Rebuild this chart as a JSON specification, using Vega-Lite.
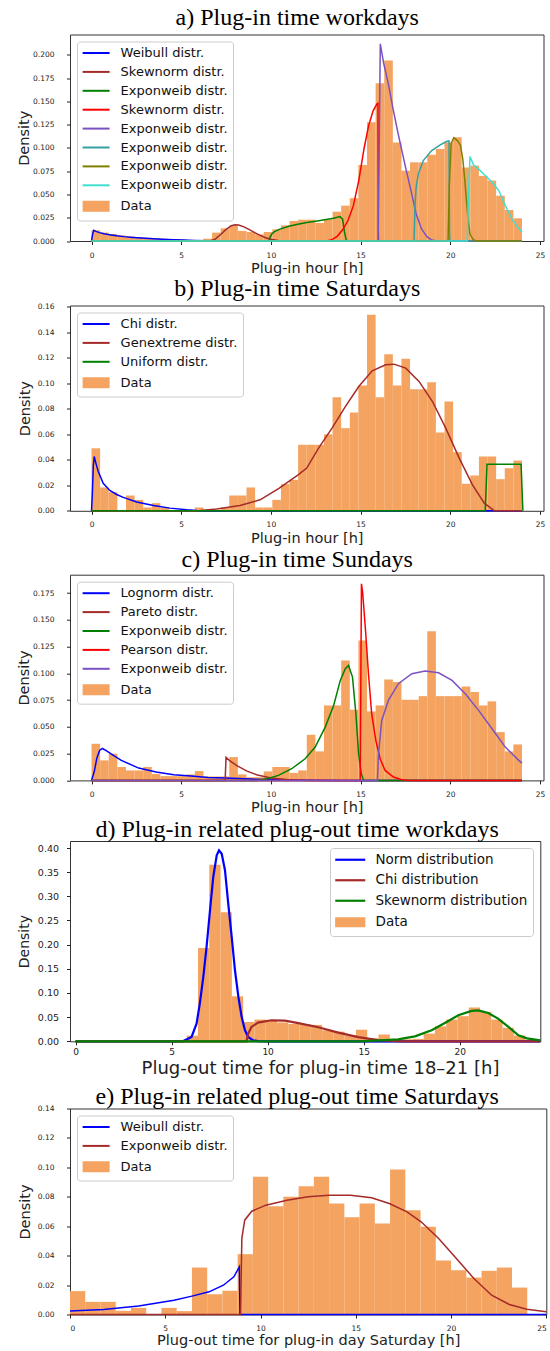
{
"$schema": "https://vega.github.io/schema/vega-lite/v6.json",
"background": "white",
"padding": {"left": 16, "top": 4.5, "right": 0, "bottom": 0},
"autosize": {"type": "pad"},
"spacing": 0,
"resolve": {"scale": {"color": "independent", "x": "independent", "y": "independent"}, "legend": {"color": "independent"}},
"config": {
  "font": "DejaVu Sans",
  "view": {"stroke": "#333333", "strokeWidth": 1},
  "axis": {"grid": false, "domain": false, "tickColor": "#222222", "tickSize": 3.5, "labelColor": "#222222", "titleColor": "#222222", "titleFontWeight": "normal", "labelFont": "DejaVu Sans", "titleFont": "DejaVu Sans"},
  "title": {"font": "Liberation Serif", "fontSize": 24, "fontWeight": "normal", "color": "#000000", "anchor": "middle"},
  "legend": {"orient": "top-left", "offset": 6.5, "padding": 5, "labelFontSize": 13, "labelOffset": 25.6, "symbolType": "M-1.18,0H4.22", "symbolSize": 100, "symbolStrokeWidth": 2, "strokeColor": "#cccccc", "fillColor": "#ffffff", "cornerRadius": 3, "labelColor": "#111111", "rowPadding": 4.9, "labelLimit": 400}
},
"vconcat": [
{
  "title": {"text": "a) Plug-in time workdays", "offset": 5, "dx": -9.5},
  "width": 473.5, "height": 206.5,
  "encoding": {
    "x": {"field": "x", "type": "quantitative", "scale": {"domain": [-1.2, 25.2], "nice": false, "zero": false}, "axis": {"title": "Plug-in hour [h]", "values": [0,5,10,15,20,25], "format": "d", "labelFontSize": 7.5, "labelPadding": 6.5, "titleFontSize": 14.5, "titlePadding": 3}},
    "y": {"field": "y", "type": "quantitative", "scale": {"domain": [0, 0.222], "nice": false}, "axis": {"title": "Density", "values": [0,0.025,0.05,0.075,0.1,0.125,0.15,0.175,0.2], "format": ".3f", "labelFontSize": 7.5, "labelPadding": 12.5, "titleFontSize": 14.5, "titlePadding": 1}}
  },
  "layer": [
    {"data": {"values": [
      {"x":0,"xe":0.48,"y":0.0115},{"x":0.48,"xe":0.96,"y":0.009},{"x":0.96,"xe":1.44,"y":0.0075},{"x":1.44,"xe":1.92,"y":0.006},{"x":1.92,"xe":2.4,"y":0.005},{"x":2.4,"xe":2.88,"y":0.0042},{"x":2.88,"xe":3.36,"y":0.0035},{"x":3.36,"xe":3.84,"y":0.003},{"x":3.84,"xe":4.32,"y":0.0025},{"x":4.32,"xe":4.8,"y":0.002},{"x":4.8,"xe":5.28,"y":0.0017},{"x":5.28,"xe":5.76,"y":0.0012},{"x":5.76,"xe":6.24,"y":0.001},{"x":6.24,"xe":6.72,"y":0.0025},{"x":6.72,"xe":7.2,"y":0.009},{"x":7.2,"xe":7.68,"y":0.0136},{"x":7.68,"xe":8.16,"y":0.0168},{"x":8.16,"xe":8.64,"y":0.0108},{"x":8.64,"xe":9.12,"y":0.0097},{"x":9.12,"xe":9.6,"y":0.0072},{"x":9.6,"xe":10.08,"y":0.0097},{"x":10.08,"xe":10.56,"y":0.0125},{"x":10.56,"xe":11.04,"y":0.0168},{"x":11.04,"xe":11.52,"y":0.0215},{"x":11.52,"xe":12,"y":0.0229},{"x":12,"xe":12.48,"y":0.0229},{"x":12.48,"xe":12.96,"y":0.0194},{"x":12.96,"xe":13.44,"y":0.023},{"x":13.44,"xe":13.92,"y":0.0315},{"x":13.92,"xe":14.4,"y":0.038},{"x":14.4,"xe":14.88,"y":0.046},{"x":14.88,"xe":15.36,"y":0.0817},{"x":15.36,"xe":15.84,"y":0.1276},{"x":15.84,"xe":16.32,"y":0.1695},{"x":16.32,"xe":16.8,"y":0.194},{"x":16.8,"xe":17.28,"y":0.106},{"x":17.28,"xe":17.76,"y":0.0756},{"x":17.76,"xe":18.24,"y":0.0846},{"x":18.24,"xe":18.72,"y":0.0846},{"x":18.72,"xe":19.2,"y":0.0928},{"x":19.2,"xe":19.68,"y":0.099},{"x":19.68,"xe":20.16,"y":0.106},{"x":20.16,"xe":20.64,"y":0.1115},{"x":20.64,"xe":21.12,"y":0.079},{"x":21.12,"xe":21.6,"y":0.081},{"x":21.6,"xe":22.08,"y":0.07},{"x":22.08,"xe":22.56,"y":0.065},{"x":22.56,"xe":23.04,"y":0.0487},{"x":23.04,"xe":23.52,"y":0.0333},{"x":23.52,"xe":24,"y":0.0244}
    ]}, "mark": {"type": "rect", "color": "#f4a460"}, "encoding": {"x2": {"field": "xe"}, "y2": {"datum": 0}}},
    {"data": {"values": [
      {"s":"1Weibull distr.","x":0,"y":0},{"s":"1Weibull distr.","x":0.06,"y":0.007},{"s":"1Weibull distr.","x":0.12,"y":0.0115},{"s":"1Weibull distr.","x":0.25,"y":0.0103},{"s":"1Weibull distr.","x":0.44,"y":0.009},{"s":"1Weibull distr.","x":0.7,"y":0.0078},{"s":"1Weibull distr.","x":1.0,"y":0.0068},{"s":"1Weibull distr.","x":1.4,"y":0.0056},{"s":"1Weibull distr.","x":1.8,"y":0.0047},{"s":"1Weibull distr.","x":2.3,"y":0.0038},{"s":"1Weibull distr.","x":2.8,"y":0.0031},{"s":"1Weibull distr.","x":3.2,"y":0.0026},{"s":"1Weibull distr.","x":3.7,"y":0.0021},{"s":"1Weibull distr.","x":4.2,"y":0.0017},{"s":"1Weibull distr.","x":4.6,"y":0.0013},{"s":"1Weibull distr.","x":5.1,"y":0.001},{"s":"1Weibull distr.","x":5.7,"y":0.0006},{"s":"1Weibull distr.","x":6.5,"y":0.0002},{"s":"1Weibull distr.","x":7.5,"y":0},{"s":"1Weibull distr.","x":24,"y":0},
      {"s":"2Skewnorm distr.","x":0,"y":0},{"s":"2Skewnorm distr.","x":6.6,"y":0},{"s":"2Skewnorm distr.","x":6.9,"y":0.002},{"s":"2Skewnorm distr.","x":7.2,"y":0.007},{"s":"2Skewnorm distr.","x":7.5,"y":0.0125},{"s":"2Skewnorm distr.","x":7.8,"y":0.0165},{"s":"2Skewnorm distr.","x":8.0,"y":0.0175},{"s":"2Skewnorm distr.","x":8.2,"y":0.0172},{"s":"2Skewnorm distr.","x":8.5,"y":0.0152},{"s":"2Skewnorm distr.","x":8.8,"y":0.0122},{"s":"2Skewnorm distr.","x":9.1,"y":0.009},{"s":"2Skewnorm distr.","x":9.4,"y":0.006},{"s":"2Skewnorm distr.","x":9.7,"y":0.0035},{"s":"2Skewnorm distr.","x":10.0,"y":0.0018},{"s":"2Skewnorm distr.","x":10.4,"y":0.0006},{"s":"2Skewnorm distr.","x":10.8,"y":0.0001},{"s":"2Skewnorm distr.","x":11.2,"y":0},{"s":"2Skewnorm distr.","x":24,"y":0},
      {"s":"3Exponweib distr.","x":0,"y":0},{"s":"3Exponweib distr.","x":9.9,"y":0},{"s":"3Exponweib distr.","x":9.95,"y":0.004},{"s":"3Exponweib distr.","x":10.05,"y":0.0075},{"s":"3Exponweib distr.","x":10.2,"y":0.01},{"s":"3Exponweib distr.","x":10.5,"y":0.0128},{"s":"3Exponweib distr.","x":11.0,"y":0.0158},{"s":"3Exponweib distr.","x":11.5,"y":0.0181},{"s":"3Exponweib distr.","x":12.0,"y":0.0198},{"s":"3Exponweib distr.","x":12.5,"y":0.0213},{"s":"3Exponweib distr.","x":13.0,"y":0.0228},{"s":"3Exponweib distr.","x":13.5,"y":0.0245},{"s":"3Exponweib distr.","x":13.85,"y":0.0262},{"s":"3Exponweib distr.","x":14.0,"y":0.0235},{"s":"3Exponweib distr.","x":14.1,"y":0.01},{"s":"3Exponweib distr.","x":14.2,"y":0.001},{"s":"3Exponweib distr.","x":14.3,"y":0},{"s":"3Exponweib distr.","x":24,"y":0},
      {"s":"4Skewnorm distr.","x":0,"y":0},{"s":"4Skewnorm distr.","x":13.1,"y":0},{"s":"4Skewnorm distr.","x":13.4,"y":0.0015},{"s":"4Skewnorm distr.","x":13.7,"y":0.005},{"s":"4Skewnorm distr.","x":14.0,"y":0.012},{"s":"4Skewnorm distr.","x":14.3,"y":0.022},{"s":"4Skewnorm distr.","x":14.6,"y":0.038},{"s":"4Skewnorm distr.","x":14.9,"y":0.065},{"s":"4Skewnorm distr.","x":15.2,"y":0.1},{"s":"4Skewnorm distr.","x":15.45,"y":0.124},{"s":"4Skewnorm distr.","x":15.7,"y":0.14},{"s":"4Skewnorm distr.","x":15.9,"y":0.147},{"s":"4Skewnorm distr.","x":15.97,"y":0.148},{"s":"4Skewnorm distr.","x":15.99,"y":0.01},{"s":"4Skewnorm distr.","x":16.0,"y":0},{"s":"4Skewnorm distr.","x":24,"y":0},
      {"s":"5Exponweib distr.","x":0,"y":0},{"s":"5Exponweib distr.","x":15.98,"y":0},{"s":"5Exponweib distr.","x":16.04,"y":0.1},{"s":"5Exponweib distr.","x":16.1,"y":0.212},{"s":"5Exponweib distr.","x":16.3,"y":0.19},{"s":"5Exponweib distr.","x":16.55,"y":0.169},{"s":"5Exponweib distr.","x":16.8,"y":0.143},{"s":"5Exponweib distr.","x":17.1,"y":0.115},{"s":"5Exponweib distr.","x":17.5,"y":0.08},{"s":"5Exponweib distr.","x":17.85,"y":0.051},{"s":"5Exponweib distr.","x":18.1,"y":0.029},{"s":"5Exponweib distr.","x":18.4,"y":0.013},{"s":"5Exponweib distr.","x":18.7,"y":0.0046},{"s":"5Exponweib distr.","x":18.95,"y":0.0012},{"s":"5Exponweib distr.","x":19.3,"y":0},{"s":"5Exponweib distr.","x":24,"y":0},
      {"s":"6Exponweib distr.","x":0,"y":0},{"s":"6Exponweib distr.","x":17.98,"y":0},{"s":"6Exponweib distr.","x":18.04,"y":0.04},{"s":"6Exponweib distr.","x":18.1,"y":0.058},{"s":"6Exponweib distr.","x":18.22,"y":0.072},{"s":"6Exponweib distr.","x":18.5,"y":0.0865},{"s":"6Exponweib distr.","x":18.95,"y":0.097},{"s":"6Exponweib distr.","x":19.42,"y":0.103},{"s":"6Exponweib distr.","x":19.79,"y":0.107},{"s":"6Exponweib distr.","x":19.93,"y":0.1075},{"s":"6Exponweib distr.","x":19.96,"y":0.01},{"s":"6Exponweib distr.","x":19.98,"y":0},{"s":"6Exponweib distr.","x":24,"y":0},
      {"s":"7Exponweib distr.","x":0,"y":0},{"s":"7Exponweib distr.","x":19.88,"y":0},{"s":"7Exponweib distr.","x":19.95,"y":0.06},{"s":"7Exponweib distr.","x":20.05,"y":0.105},{"s":"7Exponweib distr.","x":20.2,"y":0.111},{"s":"7Exponweib distr.","x":20.4,"y":0.108},{"s":"7Exponweib distr.","x":20.57,"y":0.103},{"s":"7Exponweib distr.","x":20.7,"y":0.088},{"s":"7Exponweib distr.","x":20.8,"y":0.068},{"s":"7Exponweib distr.","x":20.9,"y":0.045},{"s":"7Exponweib distr.","x":21.0,"y":0.022},{"s":"7Exponweib distr.","x":21.1,"y":0.0075},{"s":"7Exponweib distr.","x":21.3,"y":0.001},{"s":"7Exponweib distr.","x":21.5,"y":0},{"s":"7Exponweib distr.","x":24,"y":0},
      {"s":"8Exponweib distr.","x":0,"y":0},{"s":"8Exponweib distr.","x":20.95,"y":0},{"s":"8Exponweib distr.","x":21.02,"y":0.05},{"s":"8Exponweib distr.","x":21.1,"y":0.0907},{"s":"8Exponweib distr.","x":21.3,"y":0.082},{"s":"8Exponweib distr.","x":21.6,"y":0.077},{"s":"8Exponweib distr.","x":21.95,"y":0.0705},{"s":"8Exponweib distr.","x":22.33,"y":0.0635},{"s":"8Exponweib distr.","x":22.7,"y":0.0545},{"s":"8Exponweib distr.","x":23.07,"y":0.0381},{"s":"8Exponweib distr.","x":23.45,"y":0.0236},{"s":"8Exponweib distr.","x":23.75,"y":0.015},{"s":"8Exponweib distr.","x":24.0,"y":0.0097}
    ]}, "mark": {"type": "line", "strokeWidth": 1.5}, "encoding": {"color": {"field": "s", "type": "nominal",
      "scale": {"domain": ["1Weibull distr.","2Skewnorm distr.","3Exponweib distr.","4Skewnorm distr.","5Exponweib distr.","6Exponweib distr.","7Exponweib distr.","8Exponweib distr.","9Data"], "range": ["#0000ff","#a52a2a","#008000","#ff0000","#7b52c2","#36a0a0","#808000","#40e0d0","#f4a460"]},
      "legend": {"title": null, "labelExpr": "substring(datum.value, 1)", "encode": {"symbols": {"update": {"shape": {"signal": "datum.value === '9Data' ? 'M-0.98,-0.9H4.02V0.9H-0.98Z' : 'M-1.18,0H4.22'"}, "fill": {"signal": "datum.value === '9Data' ? '#f4a460' : 'transparent'"}}}}}}}}
  ]
},
{
"spacing": 2.2,
"resolve": {"scale": {"color": "independent", "x": "independent", "y": "independent"}, "legend": {"color": "independent"}},
"vconcat": [
{
  "title": {"text": "b) Plug-in time Saturdays", "offset": 2, "dx": -9.5},
  "width": 473.5, "height": 205.3,
  "encoding": {
    "x": {"field": "x", "type": "quantitative", "scale": {"domain": [-1.2, 25.2], "nice": false, "zero": false}, "axis": {"title": "Plug-in hour [h]", "values": [0,5,10,15,20,25], "format": "d", "labelFontSize": 7.5, "labelPadding": 6.5, "titleFontSize": 14.5, "titlePadding": 3}},
    "y": {"field": "y", "type": "quantitative", "scale": {"domain": [0, 0.161], "nice": false}, "axis": {"title": "Density", "values": [0,0.02,0.04,0.06,0.08,0.1,0.12,0.14,0.16], "format": ".2f", "labelFontSize": 7.5, "labelPadding": 12.5, "titleFontSize": 14.5, "titlePadding": 5}}
  },
  "layer": [
    {"data": {"values": [
      {"x":0,"xe":0.48,"y":0.049},{"x":0.48,"xe":0.96,"y":0.0183},{"x":0.96,"xe":1.44,"y":0.0146},{"x":1.92,"xe":2.4,"y":0.012},{"x":2.4,"xe":2.88,"y":0.0086},{"x":2.88,"xe":3.36,"y":0.0026},{"x":3.36,"xe":3.84,"y":0.006},{"x":3.84,"xe":4.32,"y":0.0026},{"x":5.76,"xe":6.24,"y":0.0026},{"x":7.2,"xe":7.68,"y":0.0026},{"x":7.68,"xe":8.16,"y":0.012},{"x":8.16,"xe":8.64,"y":0.012},{"x":8.64,"xe":9.12,"y":0.0183},{"x":9.12,"xe":9.6,"y":0.0026},{"x":9.6,"xe":10.08,"y":0.0026},{"x":10.08,"xe":10.56,"y":0.0086},{"x":10.56,"xe":11.04,"y":0.0209},{"x":11.04,"xe":11.52,"y":0.0243},{"x":11.52,"xe":12,"y":0.0518},{"x":12,"xe":12.48,"y":0.0518},{"x":12.48,"xe":12.96,"y":0.0518},{"x":12.96,"xe":13.44,"y":0.06},{"x":13.44,"xe":13.92,"y":0.0891},{"x":13.92,"xe":14.4,"y":0.0648},{"x":14.4,"xe":14.88,"y":0.0771},{"x":14.88,"xe":15.36,"y":0.0983},{"x":15.36,"xe":15.84,"y":0.1537},{"x":15.84,"xe":16.32,"y":0.0891},{"x":16.32,"xe":16.8,"y":0.1228},{"x":16.8,"xe":17.28,"y":0.0983},{"x":17.28,"xe":17.76,"y":0.1192},{"x":17.76,"xe":18.24,"y":0.0954},{"x":18.24,"xe":18.72,"y":0.0954},{"x":18.72,"xe":19.2,"y":0.1009},{"x":19.2,"xe":19.68,"y":0.0614},{"x":19.68,"xe":20.16,"y":0.0857},{"x":20.16,"xe":20.64,"y":0.046},{"x":20.64,"xe":21.12,"y":0.0212},{"x":21.12,"xe":21.6,"y":0.0277},{"x":21.6,"xe":22.08,"y":0.0426},{"x":22.08,"xe":22.56,"y":0.0426},{"x":22.56,"xe":23.04,"y":0.0248},{"x":23.04,"xe":23.52,"y":0.0334},{"x":23.52,"xe":24,"y":0.0394}
    ]}, "mark": {"type": "rect", "color": "#f4a460"}, "encoding": {"x2": {"field": "xe"}, "y2": {"datum": 0}}},
    {"data": {"values": [
      {"s":"1Chi distr.","x":0,"y":0},{"s":"1Chi distr.","x":0.05,"y":0.015},{"s":"1Chi distr.","x":0.1,"y":0.035},{"s":"1Chi distr.","x":0.15,"y":0.0426},{"s":"1Chi distr.","x":0.25,"y":0.037},{"s":"1Chi distr.","x":0.37,"y":0.031},{"s":"1Chi distr.","x":0.65,"y":0.0216},{"s":"1Chi distr.","x":1.02,"y":0.016},{"s":"1Chi distr.","x":1.4,"y":0.0128},{"s":"1Chi distr.","x":1.77,"y":0.0105},{"s":"1Chi distr.","x":2.52,"y":0.0069},{"s":"1Chi distr.","x":3.45,"y":0.0042},{"s":"1Chi distr.","x":4.38,"y":0.0021},{"s":"1Chi distr.","x":5.31,"y":0.0008},{"s":"1Chi distr.","x":5.87,"y":0.0003},{"s":"1Chi distr.","x":6.5,"y":0.0001},{"s":"1Chi distr.","x":7,"y":0},{"s":"1Chi distr.","x":24,"y":0},
      {"s":"2Genextreme distr.","x":0,"y":0},{"s":"2Genextreme distr.","x":5.8,"y":0},{"s":"2Genextreme distr.","x":6.05,"y":0.0002},{"s":"2Genextreme distr.","x":6.98,"y":0.0015},{"s":"2Genextreme distr.","x":8.28,"y":0.0042},{"s":"2Genextreme distr.","x":9.4,"y":0.0086},{"s":"2Genextreme distr.","x":10.45,"y":0.0175},{"s":"2Genextreme distr.","x":11.5,"y":0.028},{"s":"2Genextreme distr.","x":12.0,"y":0.0335},{"s":"2Genextreme distr.","x":12.66,"y":0.0491},{"s":"2Genextreme distr.","x":13.41,"y":0.0648},{"s":"2Genextreme distr.","x":14.15,"y":0.0817},{"s":"2Genextreme distr.","x":14.9,"y":0.0975},{"s":"2Genextreme distr.","x":15.65,"y":0.1098},{"s":"2Genextreme distr.","x":16.4,"y":0.1145},{"s":"2Genextreme distr.","x":16.86,"y":0.115},{"s":"2Genextreme distr.","x":17.52,"y":0.1119},{"s":"2Genextreme distr.","x":18.26,"y":0.1015},{"s":"2Genextreme distr.","x":19.01,"y":0.0857},{"s":"2Genextreme distr.","x":19.75,"y":0.0648},{"s":"2Genextreme distr.","x":20.5,"y":0.0413},{"s":"2Genextreme distr.","x":21.24,"y":0.0204},{"s":"2Genextreme distr.","x":21.9,"y":0.006},{"s":"2Genextreme distr.","x":22.46,"y":0},{"s":"2Genextreme distr.","x":24,"y":0},
      {"s":"3Uniform distr.","x":0,"y":0},{"s":"3Uniform distr.","x":21.95,"y":0},{"s":"3Uniform distr.","x":22.05,"y":0.0366},{"s":"3Uniform distr.","x":23.95,"y":0.0366},{"s":"3Uniform distr.","x":24.05,"y":0}
    ]}, "mark": {"type": "line", "strokeWidth": 1.5}, "encoding": {"color": {"field": "s", "type": "nominal",
      "scale": {"domain": ["1Chi distr.","2Genextreme distr.","3Uniform distr.","4Data"], "range": ["#0000ff","#a52a2a","#008000","#f4a460"]},
      "legend": {"title": null, "labelExpr": "substring(datum.value, 1)", "encode": {"symbols": {"update": {"shape": {"signal": "datum.value === '4Data' ? 'M-0.98,-0.9H4.02V0.9H-0.98Z' : 'M-1.18,0H4.22'"}, "fill": {"signal": "datum.value === '4Data' ? '#f4a460' : 'transparent'"}}}}}}}}
  ]
},
{
"spacing": 1.3,
"resolve": {"scale": {"color": "independent", "x": "independent", "y": "independent"}, "legend": {"color": "independent"}},
"vconcat": [
{
  "title": {"text": "c) Plug-in time Sundays", "offset": 2.5, "dx": -9.5},
  "width": 473.5, "height": 205.7,
  "encoding": {
    "x": {"field": "x", "type": "quantitative", "scale": {"domain": [-1.2, 25.2], "nice": false, "zero": false}, "axis": {"title": "Plug-in hour [h]", "values": [0,5,10,15,20,25], "format": "d", "labelFontSize": 7.5, "labelPadding": 6.5, "titleFontSize": 14.5, "titlePadding": 3}},
    "y": {"field": "y", "type": "quantitative", "scale": {"domain": [0, 0.1921], "nice": false}, "axis": {"title": "Density", "values": [0,0.025,0.05,0.075,0.1,0.125,0.15,0.175], "format": ".3f", "labelFontSize": 7.5, "labelPadding": 12.5, "titleFontSize": 14.5, "titlePadding": 1}}
  },
  "layer": [
    {"data": {"values": [
      {"x":0,"xe":0.48,"y":0.0342},{"x":0.48,"xe":0.96,"y":0.0187},{"x":0.96,"xe":1.44,"y":0.0249},{"x":1.44,"xe":1.92,"y":0.0125},{"x":1.92,"xe":2.4,"y":0.0093},{"x":2.4,"xe":2.88,"y":0.0093},{"x":2.88,"xe":3.36,"y":0.0125},{"x":3.36,"xe":3.84,"y":0.006},{"x":3.84,"xe":4.32,"y":0.004},{"x":4.32,"xe":4.8,"y":0.004},{"x":4.8,"xe":5.28,"y":0.004},{"x":5.28,"xe":5.76,"y":0.0056},{"x":5.76,"xe":6.24,"y":0.0087},{"x":6.24,"xe":6.72,"y":0.0037},{"x":6.72,"xe":7.2,"y":0.0037},{"x":7.2,"xe":7.68,"y":0.0037},{"x":7.68,"xe":8.16,"y":0.0218},{"x":8.16,"xe":8.64,"y":0.0056},{"x":8.64,"xe":9.12,"y":0.003},{"x":9.12,"xe":9.6,"y":0.003},{"x":9.6,"xe":10.08,"y":0.0084},{"x":10.08,"xe":10.56,"y":0.0125},{"x":10.56,"xe":11.04,"y":0.0125},{"x":11.04,"xe":11.52,"y":0.007},{"x":11.52,"xe":12,"y":0.0093},{"x":12,"xe":12.48,"y":0.0426},{"x":12.48,"xe":12.96,"y":0.0271},{"x":12.96,"xe":13.44,"y":0.07},{"x":13.44,"xe":13.92,"y":0.07},{"x":13.92,"xe":14.4,"y":0.112},{"x":14.4,"xe":14.88,"y":0.066},{"x":14.88,"xe":15.36,"y":0.1307},{"x":15.36,"xe":15.84,"y":0.0644},{"x":15.84,"xe":16.32,"y":0.07},{"x":16.32,"xe":16.8,"y":0.0943},{"x":16.8,"xe":17.28,"y":0.0918},{"x":17.28,"xe":17.76,"y":0.0753},{"x":17.76,"xe":18.24,"y":0.0753},{"x":18.24,"xe":18.72,"y":0.0787},{"x":18.72,"xe":19.2,"y":0.1394},{"x":19.2,"xe":19.68,"y":0.0787},{"x":19.68,"xe":20.16,"y":0.0787},{"x":20.16,"xe":20.64,"y":0.0787},{"x":20.64,"xe":21.12,"y":0.0878},{"x":21.12,"xe":21.6,"y":0.0825},{"x":21.6,"xe":22.08,"y":0.07},{"x":22.08,"xe":22.56,"y":0.0738},{"x":22.56,"xe":23.04,"y":0.0451},{"x":23.04,"xe":23.52,"y":0.0271},{"x":23.52,"xe":24,"y":0.0336}
    ]}, "mark": {"type": "rect", "color": "#f4a460"}, "encoding": {"x2": {"field": "xe"}, "y2": {"datum": 0}}},
    {"data": {"values": [
      {"s":"1Lognorm distr.","x":0,"y":0},{"s":"1Lognorm distr.","x":0.15,"y":0.008},{"s":"1Lognorm distr.","x":0.3,"y":0.021},{"s":"1Lognorm distr.","x":0.45,"y":0.028},{"s":"1Lognorm distr.","x":0.6,"y":0.0298},{"s":"1Lognorm distr.","x":0.8,"y":0.028},{"s":"1Lognorm distr.","x":1.07,"y":0.0249},{"s":"1Lognorm distr.","x":1.66,"y":0.0187},{"s":"1Lognorm distr.","x":2.63,"y":0.0115},{"s":"1Lognorm distr.","x":3.6,"y":0.0078},{"s":"1Lognorm distr.","x":4.58,"y":0.0053},{"s":"1Lognorm distr.","x":5.55,"y":0.004},{"s":"1Lognorm distr.","x":6.5,"y":0.0028},{"s":"1Lognorm distr.","x":7.5,"y":0.0022},{"s":"1Lognorm distr.","x":8.86,"y":0.0012},{"s":"1Lognorm distr.","x":10.4,"y":0.0006},{"s":"1Lognorm distr.","x":12,"y":0.0002},{"s":"1Lognorm distr.","x":14,"y":0},{"s":"1Lognorm distr.","x":24,"y":0},
      {"s":"2Pareto distr.","x":0,"y":0},{"s":"2Pareto distr.","x":7.45,"y":0},{"s":"2Pareto distr.","x":7.5,"y":0.0215},{"s":"2Pareto distr.","x":7.7,"y":0.0185},{"s":"2Pareto distr.","x":8.08,"y":0.014},{"s":"2Pareto distr.","x":8.67,"y":0.0087},{"s":"2Pareto distr.","x":9.25,"y":0.005},{"s":"2Pareto distr.","x":10.0,"y":0.0022},{"s":"2Pareto distr.","x":11.0,"y":0.0006},{"s":"2Pareto distr.","x":12,"y":0},{"s":"2Pareto distr.","x":24,"y":0},
      {"s":"3Exponweib distr.","x":0,"y":0},{"s":"3Exponweib distr.","x":9.2,"y":0},{"s":"3Exponweib distr.","x":9.8,"y":0.0015},{"s":"3Exponweib distr.","x":10.42,"y":0.0047},{"s":"3Exponweib distr.","x":11.16,"y":0.0109},{"s":"3Exponweib distr.","x":11.91,"y":0.0202},{"s":"3Exponweib distr.","x":12.47,"y":0.0311},{"s":"3Exponweib distr.","x":13.03,"y":0.0498},{"s":"3Exponweib distr.","x":13.5,"y":0.07},{"s":"3Exponweib distr.","x":13.87,"y":0.0934},{"s":"3Exponweib distr.","x":14.15,"y":0.1043},{"s":"3Exponweib distr.","x":14.33,"y":0.1074},{"s":"3Exponweib distr.","x":14.55,"y":0.0965},{"s":"3Exponweib distr.","x":14.74,"y":0.0623},{"s":"3Exponweib distr.","x":14.89,"y":0.0249},{"s":"3Exponweib distr.","x":15.04,"y":0.0062},{"s":"3Exponweib distr.","x":15.17,"y":0},{"s":"3Exponweib distr.","x":24,"y":0},
      {"s":"4Pearson distr.","x":0,"y":0},{"s":"4Pearson distr.","x":14.98,"y":0},{"s":"4Pearson distr.","x":15.05,"y":0.1836},{"s":"4Pearson distr.","x":15.12,"y":0.175},{"s":"4Pearson distr.","x":15.29,"y":0.137},{"s":"4Pearson distr.","x":15.44,"y":0.0996},{"s":"4Pearson distr.","x":15.62,"y":0.0623},{"s":"4Pearson distr.","x":15.85,"y":0.0374},{"s":"4Pearson distr.","x":16.09,"y":0.0202},{"s":"4Pearson distr.","x":16.37,"y":0.0093},{"s":"4Pearson distr.","x":16.83,"y":0.0031},{"s":"4Pearson distr.","x":17.3,"y":0.0006},{"s":"4Pearson distr.","x":17.8,"y":0},{"s":"4Pearson distr.","x":24,"y":0},
      {"s":"5Exponweib distr.","x":0,"y":0},{"s":"5Exponweib distr.","x":15.94,"y":0},{"s":"5Exponweib distr.","x":16.0,"y":0.0249},{"s":"5Exponweib distr.","x":16.18,"y":0.056},{"s":"5Exponweib distr.","x":16.55,"y":0.0747},{"s":"5Exponweib distr.","x":17.11,"y":0.0903},{"s":"5Exponweib distr.","x":17.86,"y":0.0996},{"s":"5Exponweib distr.","x":18.6,"y":0.1021},{"s":"5Exponweib distr.","x":19.35,"y":0.1005},{"s":"5Exponweib distr.","x":20.1,"y":0.0934},{"s":"5Exponweib distr.","x":20.84,"y":0.0809},{"s":"5Exponweib distr.","x":21.58,"y":0.0654},{"s":"5Exponweib distr.","x":22.33,"y":0.0482},{"s":"5Exponweib distr.","x":23.07,"y":0.0311},{"s":"5Exponweib distr.","x":23.82,"y":0.0187},{"s":"5Exponweib distr.","x":24.0,"y":0.0162}
    ]}, "mark": {"type": "line", "strokeWidth": 1.5}, "encoding": {"color": {"field": "s", "type": "nominal",
      "scale": {"domain": ["1Lognorm distr.","2Pareto distr.","3Exponweib distr.","4Pearson distr.","5Exponweib distr.","6Data"], "range": ["#0000ff","#a52a2a","#008000","#ff0000","#7b52c2","#f4a460"]},
      "legend": {"title": null, "labelExpr": "substring(datum.value, 1)", "encode": {"symbols": {"update": {"shape": {"signal": "datum.value === '6Data' ? 'M-0.98,-0.9H4.02V0.9H-0.98Z' : 'M-1.18,0H4.22'"}, "fill": {"signal": "datum.value === '6Data' ? '#f4a460' : 'transparent'"}}}}}}}}
  ]
},
{
"spacing": 4.5,
"resolve": {"scale": {"color": "independent", "x": "independent", "y": "independent"}, "legend": {"color": "independent"}},
"vconcat": [
{
  "title": {"text": "d) Plug-in related plug-out time workdays", "offset": -1, "dx": -8},
  "width": 470.3, "height": 200.3,
  "encoding": {
    "x": {"field": "x", "type": "quantitative", "scale": {"domain": [-0.29, 24.2], "nice": false, "zero": false}, "axis": {"title": "Plug-out time for plug-in time 18–21 [h]", "values": [0,5,10,15,20], "format": "d", "labelFontSize": 9, "labelPadding": 3, "titleFontSize": 18, "titlePadding": 3, "titleX": 250, "titleAlign": "center"}},
    "y": {"field": "y", "type": "quantitative", "scale": {"domain": [0, 0.4145], "nice": false}, "axis": {"title": "Density", "values": [0,0.05,0.1,0.15,0.2,0.25,0.3,0.35,0.4], "format": ".2f", "labelFontSize": 9.5, "labelPadding": 8, "titleFontSize": 14, "titlePadding": 6}}
  },
  "layer": [
    {"data": {"values": [
      {"x":0.5,"xe":1.0875,"y":0.002},{"x":3.4375,"xe":4.025,"y":0.002},{"x":4.6125,"xe":5.2,"y":0.002},{"x":5.2,"xe":5.7875,"y":0.002},{"x":5.7875,"xe":6.375,"y":0.0117},{"x":6.375,"xe":6.9625,"y":0.193},{"x":6.9625,"xe":7.55,"y":0.3656},{"x":7.55,"xe":8.1375,"y":0.267},{"x":8.1375,"xe":8.725,"y":0.0931},{"x":8.725,"xe":9.3125,"y":0.04},{"x":9.3125,"xe":9.9,"y":0.045},{"x":9.9,"xe":10.4875,"y":0.044},{"x":10.4875,"xe":11.075,"y":0.039},{"x":11.075,"xe":11.6625,"y":0.036},{"x":11.6625,"xe":12.25,"y":0.035},{"x":12.25,"xe":12.8375,"y":0.034},{"x":12.8375,"xe":13.425,"y":0.023},{"x":13.425,"xe":14.0125,"y":0.02},{"x":14.0125,"xe":14.6,"y":0.012},{"x":14.6,"xe":15.1875,"y":0.024},{"x":15.1875,"xe":15.775,"y":0.006},{"x":15.775,"xe":16.3625,"y":0.014},{"x":16.3625,"xe":16.95,"y":0.005},{"x":16.95,"xe":17.5375,"y":0.004},{"x":17.5375,"xe":18.125,"y":0.005},{"x":18.125,"xe":18.7125,"y":0.016},{"x":18.7125,"xe":19.3,"y":0.031},{"x":19.3,"xe":19.8875,"y":0.045},{"x":19.8875,"xe":20.475,"y":0.052},{"x":20.475,"xe":21.0625,"y":0.07},{"x":21.0625,"xe":21.65,"y":0.061},{"x":21.65,"xe":22.2375,"y":0.045},{"x":22.2375,"xe":22.825,"y":0.028},{"x":22.825,"xe":23.4125,"y":0.012},{"x":23.4125,"xe":24,"y":0.003}
    ]}, "mark": {"type": "rect", "color": "#f4a460"}, "encoding": {"x2": {"field": "xe"}, "y2": {"datum": 0}}},
    {"data": {"values": [
      {"s":"1Norm distribution","x":0,"y":0},{"s":"1Norm distribution","x":5.0,"y":0},{"s":"1Norm distribution","x":5.61,"y":0.0005},{"s":"1Norm distribution","x":6.04,"y":0.009},{"s":"1Norm distribution","x":6.3,"y":0.0366},{"s":"1Norm distribution","x":6.47,"y":0.078},{"s":"1Norm distribution","x":6.65,"y":0.133},{"s":"1Norm distribution","x":6.82,"y":0.195},{"s":"1Norm distribution","x":7.0,"y":0.271},{"s":"1Norm distribution","x":7.17,"y":0.34},{"s":"1Norm distribution","x":7.35,"y":0.385},{"s":"1Norm distribution","x":7.47,"y":0.395},{"s":"1Norm distribution","x":7.61,"y":0.388},{"s":"1Norm distribution","x":7.78,"y":0.354},{"s":"1Norm distribution","x":7.95,"y":0.285},{"s":"1Norm distribution","x":8.13,"y":0.216},{"s":"1Norm distribution","x":8.3,"y":0.147},{"s":"1Norm distribution","x":8.48,"y":0.0917},{"s":"1Norm distribution","x":8.65,"y":0.05},{"s":"1Norm distribution","x":8.82,"y":0.0228},{"s":"1Norm distribution","x":8.99,"y":0.009},{"s":"1Norm distribution","x":9.25,"y":0.002},{"s":"1Norm distribution","x":9.5,"y":0.0003},{"s":"1Norm distribution","x":10,"y":0},{"s":"1Norm distribution","x":24.2,"y":0},
      {"s":"2Chi distribution","x":0,"y":0},{"s":"2Chi distribution","x":8.9,"y":0},{"s":"2Chi distribution","x":8.99,"y":0.016},{"s":"2Chi distribution","x":9.16,"y":0.0297},{"s":"2Chi distribution","x":9.5,"y":0.0386},{"s":"2Chi distribution","x":10.2,"y":0.0435},{"s":"2Chi distribution","x":10.9,"y":0.0428},{"s":"2Chi distribution","x":11.6,"y":0.0376},{"s":"2Chi distribution","x":12.64,"y":0.029},{"s":"2Chi distribution","x":13.68,"y":0.018},{"s":"2Chi distribution","x":14.72,"y":0.0085},{"s":"2Chi distribution","x":15.76,"y":0.0025},{"s":"2Chi distribution","x":16.8,"y":0.0003},{"s":"2Chi distribution","x":17.5,"y":0},{"s":"2Chi distribution","x":24.2,"y":0},
      {"s":"3Skewnorm distribution","x":0,"y":0},{"s":"3Skewnorm distribution","x":14.72,"y":0},{"s":"3Skewnorm distribution","x":15.93,"y":0.002},{"s":"3Skewnorm distribution","x":16.8,"y":0.004},{"s":"3Skewnorm distribution","x":17.67,"y":0.0103},{"s":"3Skewnorm distribution","x":18.54,"y":0.0228},{"s":"3Skewnorm distribution","x":19.23,"y":0.0379},{"s":"3Skewnorm distribution","x":19.93,"y":0.0538},{"s":"3Skewnorm distribution","x":20.62,"y":0.0628},{"s":"3Skewnorm distribution","x":20.97,"y":0.0641},{"s":"3Skewnorm distribution","x":21.49,"y":0.0586},{"s":"3Skewnorm distribution","x":22.0,"y":0.0469},{"s":"3Skewnorm distribution","x":22.54,"y":0.0297},{"s":"3Skewnorm distribution","x":23.06,"y":0.0124},{"s":"3Skewnorm distribution","x":23.5,"y":0.006},{"s":"3Skewnorm distribution","x":24.2,"y":0.002}
    ]}, "mark": {"type": "line", "strokeWidth": 2.2}, "encoding": {"color": {"field": "s", "type": "nominal",
      "scale": {"domain": ["1Norm distribution","2Chi distribution","3Skewnorm distribution","4Data"], "range": ["#0000ff","#a52a2a","#008000","#f4a460"]},
      "legend": {"title": null, "orient": "top-right", "offset": 7, "labelFontSize": 13.5, "rowPadding": 5.5, "labelOffset": 27, "symbolStrokeWidth": 2.2, "symbolType": "M-1.3,0H4.7", "labelExpr": "substring(datum.value, 1)", "encode": {"symbols": {"update": {"shape": {"signal": "datum.value === '4Data' ? 'M-1.1,-0.8H4.5V0.8H-1.1Z' : 'M-1.3,0H4.7'"}, "fill": {"signal": "datum.value === '4Data' ? '#f4a460' : 'transparent'"}}}}}}}}
  ]
},
{
  "title": {"text": "e) Plug-in related plug-out time Saturdays", "offset": -4, "dx": -11},
  "width": 476.3, "height": 206,
  "encoding": {
    "x": {"field": "x", "type": "quantitative", "scale": {"domain": [0, 25], "nice": false, "zero": false}, "axis": {"title": "Plug-out time for plug-in day Saturday [h]", "values": [0,5,10,15,20,25], "format": "d", "labelFontSize": 7.5, "labelPadding": 6.5, "titleFontSize": 14.5, "titlePadding": 1}},
    "y": {"field": "y", "type": "quantitative", "scale": {"domain": [0, 0.14], "nice": false}, "axis": {"title": "Density", "values": [0,0.02,0.04,0.06,0.08,0.1,0.12,0.14], "format": ".2f", "labelFontSize": 7.5, "labelPadding": 12.5, "titleFontSize": 14.5, "titlePadding": 5}}
  },
  "layer": [
    {"data": {"values": [
      {"x":0,"xe":0.8,"y":0.0159},{"x":0.8,"xe":1.6,"y":0.0086},{"x":1.6,"xe":2.4,"y":0.0086},{"x":2.4,"xe":3.2,"y":0.0025},{"x":3.2,"xe":4.0,"y":0.0045},{"x":4.8,"xe":5.6,"y":0.0045},{"x":5.6,"xe":6.4,"y":0.0023},{"x":6.4,"xe":7.2,"y":0.0319},{"x":7.2,"xe":8.0,"y":0.0138},{"x":8.0,"xe":8.8,"y":0.0161},{"x":8.8,"xe":9.6,"y":0.041},{"x":9.6,"xe":10.4,"y":0.0936},{"x":10.4,"xe":11.2,"y":0.0736},{"x":11.2,"xe":12.0,"y":0.08},{"x":12.0,"xe":12.8,"y":0.0872},{"x":12.8,"xe":13.6,"y":0.0936},{"x":13.6,"xe":14.4,"y":0.0754},{"x":14.4,"xe":15.2,"y":0.0661},{"x":15.2,"xe":16.0,"y":0.0754},{"x":16.0,"xe":16.8,"y":0.0618},{"x":16.8,"xe":17.6,"y":0.0985},{"x":17.6,"xe":18.4,"y":0.0709},{"x":18.4,"xe":19.2,"y":0.0596},{"x":19.2,"xe":20.0,"y":0.0367},{"x":20.0,"xe":20.8,"y":0.0301},{"x":20.8,"xe":21.6,"y":0.0251},{"x":21.6,"xe":22.4,"y":0.0297},{"x":22.4,"xe":23.2,"y":0.0319},{"x":23.2,"xe":24.0,"y":0.0183}
    ]}, "mark": {"type": "rect", "color": "#f4a460"}, "encoding": {"x2": {"field": "xe"}, "y2": {"datum": 0}}},
    {"data": {"values": [
      {"s":"1Weibull distr.","x":0,"y":0.0023},{"s":"1Weibull distr.","x":1.76,"y":0.0034},{"s":"1Weibull distr.","x":3.6,"y":0.0057},{"s":"1Weibull distr.","x":5.46,"y":0.0097},{"s":"1Weibull distr.","x":6.4,"y":0.0125},{"s":"1Weibull distr.","x":7.3,"y":0.0154},{"s":"1Weibull distr.","x":8.05,"y":0.0199},{"s":"1Weibull distr.","x":8.6,"y":0.0256},{"s":"1Weibull distr.","x":8.89,"y":0.0324},{"s":"1Weibull distr.","x":8.92,"y":0},{"s":"1Weibull distr.","x":25,"y":0},
      {"s":"2Exponweib distr.","x":0,"y":0},{"s":"2Exponweib distr.","x":8.95,"y":0},{"s":"2Exponweib distr.","x":9.02,"y":0.0517},{"s":"2Exponweib distr.","x":9.17,"y":0.0641},{"s":"2Exponweib distr.","x":9.54,"y":0.0702},{"s":"2Exponweib distr.","x":10.28,"y":0.0743},{"s":"2Exponweib distr.","x":11.39,"y":0.0777},{"s":"2Exponweib distr.","x":12.5,"y":0.08},{"s":"2Exponweib distr.","x":13.6,"y":0.0811},{"s":"2Exponweib distr.","x":14.72,"y":0.0811},{"s":"2Exponweib distr.","x":15.83,"y":0.0793},{"s":"2Exponweib distr.","x":16.76,"y":0.0754},{"s":"2Exponweib distr.","x":17.69,"y":0.0698},{"s":"2Exponweib distr.","x":18.43,"y":0.063},{"s":"2Exponweib distr.","x":19.35,"y":0.0517},{"s":"2Exponweib distr.","x":20.28,"y":0.038},{"s":"2Exponweib distr.","x":21.2,"y":0.0245},{"s":"2Exponweib distr.","x":22.13,"y":0.0131},{"s":"2Exponweib distr.","x":23.06,"y":0.0068},{"s":"2Exponweib distr.","x":23.98,"y":0.0036},{"s":"2Exponweib distr.","x":25,"y":0.0018}
    ]}, "mark": {"type": "line", "strokeWidth": 1.5}, "encoding": {"color": {"field": "s", "type": "nominal",
      "scale": {"domain": ["1Weibull distr.","2Exponweib distr.","3Data"], "range": ["#0000ff","#a52a2a","#f4a460"]},
      "legend": {"title": null, "labelExpr": "substring(datum.value, 1)", "encode": {"symbols": {"update": {"shape": {"signal": "datum.value === '3Data' ? 'M-0.98,-0.9H4.02V0.9H-0.98Z' : 'M-1.18,0H4.22'"}, "fill": {"signal": "datum.value === '3Data' ? '#f4a460' : 'transparent'"}}}}}}}}
  ]
}
]
}
]
}
]
}
]
}
